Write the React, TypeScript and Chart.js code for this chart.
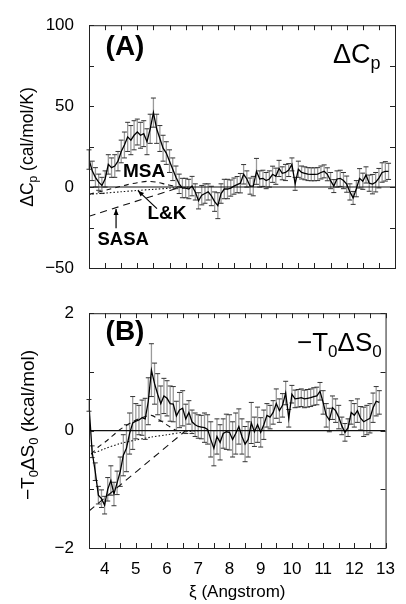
import React, { useEffect, useRef } from 'react';
import { Chart, registerables } from 'chart.js';
Chart.register(...registerables);

const FAM = '"Liberation Sans", Arial, Helvetica, sans-serif';

// separation coordinate (Angstrom)
const XI = [
  3.5, 3.6, 3.7, 3.8, 3.9, 4.0, 4.1, 4.2, 4.3, 4.4,
  4.5, 4.6, 4.7, 4.8, 4.9, 5.0, 5.1, 5.2, 5.3, 5.4,
  5.5, 5.6, 5.7, 5.8, 5.9, 6.0, 6.1, 6.2, 6.3, 6.4,
  6.5, 6.6, 6.7, 6.8, 6.9, 7.0, 7.1, 7.2, 7.3, 7.4,
  7.5, 7.6, 7.7, 7.8, 7.9, 8.0, 8.1, 8.2, 8.3, 8.4,
  8.5, 8.6, 8.7, 8.8, 8.9, 9.0, 9.1, 9.2, 9.3, 9.4,
  9.5, 9.6, 9.7, 9.8, 9.9, 10.0, 10.1, 10.2, 10.3, 10.4,
  10.5, 10.6, 10.7, 10.8, 10.9, 11.0, 11.1, 11.2, 11.3, 11.4,
  11.5, 11.6, 11.7, 11.8, 11.9, 12.0, 12.1, 12.2, 12.3, 12.4,
  12.5, 12.6, 12.7, 12.8,
];

// Panel A: ΔCp (cal/mol/K)
const DCP = [
  17, 10, 6, 3, 1, 5, 14, 12, 13, 16,
  22, 26, 31, 29, 32, 34, 32, 33, 28, 36,
  46, 36, 30, 24, 21, 16, 11, 6, 2, -0.6,
  -0.6, -1.2, 0.6, -3, -8.5, -5, -4, -3, -5.5, -9,
  -11.5, -4, -1.2, -1.2, -0.6, 0.6, 1.5, 2.4, 7.9, 5,
  0.6, 0.6, 9.7, 5, 5.4, 4, 5, 7.9, 6.7, 11.5,
  8.5, 9, 10.5, 14, 2, 11, 9, 8.5, 8, 7.9,
  7.9, 8, 9, 9.7, 7.9, 4, 0.6, 5, 5.4, 4,
  1.8, -3, -6.7, -1, 5.4, 3.6, 7.5, 2.4, 1.8, 3,
  5.5, 9, 9.7, 9.7,
];
const DCP_ERR = [
  6, 6, 6, 5, 5, 5, 6, 6, 7, 6,
  7, 8, 9, 9, 9, 8, 8, 8, 8, 9,
  9, 9, 8, 8, 7, 7, 7, 7, 6, 6,
  6, 6, 6, 5, 5, 6, 6, 5, 6, 6,
  8, 6, 6, 6, 5, 5, 5, 6, 6, 5,
  5, 6, 8, 5, 5, 5, 5, 5, 5, 5,
  4, 5, 4, 4, 4, 5, 4, 4, 4, 4,
  4, 4, 4, 4, 4, 5, 4, 5, 5, 5,
  5, 5, 4, 5, 6, 5, 5, 5, 6, 6,
  6, 6, 6, 5,
];

// Panel B: -T0ΔS0 (kcal/mol)
const TDS = [
  0.43, -0.36, -0.7, -1.1, -1.16, -1.27, -1.0, -0.85, -1.08, -0.89,
  -0.7, -0.42, -0.3, -0.05, 0.13, 0.16, 0.18, 0.22, 0.2, 0.5,
  1.03, 0.8, 0.62, 0.46, 0.59, 0.55, 0.46, 0.45, 0.25, 0.35,
  0.38, 0.2, 0.31, 0.15, 0.1, 0.07, 0.06, 0.05, 0.02, -0.15,
  -0.3, -0.1, -0.2, -0.05, -0.02, -0.03, -0.15, -0.05, 0.07, -0.1,
  -0.23, -0.15, 0.13, -0.02, 0.1, -0.03, 0.1, 0.26, 0.23, 0.31,
  0.46, 0.34, 0.43, 0.64, 0.21, 0.62, 0.54, 0.55, 0.56, 0.54,
  0.55, 0.56, 0.58, 0.59, 0.67, 0.48, 0.26, 0.18, 0.39, 0.34,
  0.23, 0.08, -0.03, 0.05, 0.31, 0.26, 0.34, 0.21, 0.15, 0.18,
  0.21, 0.39, 0.5, 0.48,
];
const TDS_ERR = [
  0.1, 0.1, 0.15, 0.15, 0.15, 0.15, 0.2, 0.25, 0.2, 0.2,
  0.25, 0.35, 0.4, 0.35, 0.45, 0.3, 0.25, 0.3, 0.35, 0.4,
  0.45, 0.35, 0.35, 0.3, 0.3, 0.3, 0.3, 0.3, 0.25, 0.3,
  0.3, 0.25, 0.2, 0.2, 0.2, 0.2, 0.2, 0.25, 0.25, 0.3,
  0.3, 0.3, 0.3, 0.25, 0.3, 0.3, 0.3, 0.35, 0.3, 0.3,
  0.3, 0.3, 0.35, 0.25, 0.3, 0.25, 0.25, 0.2, 0.2, 0.2,
  0.25, 0.2, 0.2, 0.2, 0.15, 0.15, 0.15, 0.15, 0.15, 0.15,
  0.15, 0.15, 0.15, 0.15, 0.15, 0.2, 0.2, 0.2, 0.2, 0.2,
  0.2, 0.15, 0.15, 0.15, 0.2, 0.2, 0.2, 0.2, 0.25, 0.25,
  0.25, 0.25, 0.25, 0.2,
];

// model curves, panel A
const SASA_A_X = [3.5, 6.35];
const SASA_A_Y = [-18, 0];
const LK_A_X = [3.5, 4.0, 4.5, 5.0, 5.5, 6.0, 6.6];
const LK_A_Y = [-4.5, -3.7, -2.9, -2.1, -1.4, -0.7, 0];
const MSA_A_X = [3.5, 3.8, 4.1, 4.4, 4.7, 5.0, 5.3, 5.6, 5.9, 6.2, 6.4];
const MSA_A_Y = [-4.5, -3, -1.5, 0, 1.5, 2.7, 3.5, 3.0, 1.6, 0.3, 0];

// model curves, panel B
const SASA_B_X = [3.5, 6.6];
const SASA_B_Y = [-1.37, 0];
const LK_B_X = [3.57, 4.0, 4.5, 5.0, 5.5, 6.0, 6.6, 7.0];
const LK_B_Y = [-0.4, -0.31, -0.22, -0.16, -0.11, -0.07, -0.02, 0];
const MSA_B_X = [3.57, 3.8, 4.1, 4.5, 4.9, 5.2, 5.5, 5.7, 5.9, 6.1, 6.3];
const MSA_B_Y = [-0.4, -0.28, -0.16, 0.02, 0.15, 0.22, 0.26, 0.2, 0.13, 0.06, 0];

const ZERO_X = [3.5, 13];
const ZERO_Y = [0, 0];

const X_MIN = 3.5;
const X_MAX = 13;

const pts = (xs: number[], ys: number[]) => xs.map((x, i) => ({ x, y: ys[i] }));

type Seg = { t: string; sub?: boolean };

function drawRich(ctx: CanvasRenderingContext2D, segs: Seg[], x: number, y: number, size: number, align: 'left' | 'center', weight = 'normal') {
  const sub = Math.round(size * 0.66);
  const widths = segs.map((s) => {
    ctx.font = `${weight} ${s.sub ? sub : size}px ${FAM}`;
    return ctx.measureText(s.t).width;
  });
  const total = widths.reduce((a, b) => a + b, 0);
  let cx = align === 'center' ? x - total / 2 : x;
  ctx.textAlign = 'left';
  ctx.textBaseline = 'alphabetic';
  segs.forEach((s, i) => {
    ctx.font = `${weight} ${s.sub ? sub : size}px ${FAM}`;
    ctx.fillText(s.t, cx, y + (s.sub ? size * 0.22 : 0));
    cx += widths[i];
  });
}

function arrow(ctx: CanvasRenderingContext2D, x1: number, y1: number, x2: number, y2: number) {
  ctx.save();
  ctx.strokeStyle = '#000';
  ctx.fillStyle = '#000';
  ctx.lineWidth = 1.2;
  ctx.setLineDash([]);
  ctx.beginPath();
  ctx.moveTo(x1, y1);
  ctx.lineTo(x2, y2);
  ctx.stroke();
  const a = Math.atan2(y2 - y1, x2 - x1);
  const L = 6, W = 2.5;
  ctx.beginPath();
  ctx.moveTo(x2, y2);
  ctx.lineTo(x2 - L * Math.cos(a) + W * Math.sin(a), y2 - L * Math.sin(a) - W * Math.cos(a));
  ctx.lineTo(x2 - L * Math.cos(a) - W * Math.sin(a), y2 - L * Math.sin(a) + W * Math.cos(a));
  ctx.closePath();
  ctx.fill();
  ctx.restore();
}

const framePlugin = {
  id: 'frameTicks',
  afterDatasetsDraw(chart: any) {
    const { ctx, chartArea: a, scales } = chart;
    ctx.save();
    ctx.strokeStyle = '#222';
    ctx.lineWidth = 1;
    ctx.setLineDash([]);
    ctx.strokeRect(a.left + 0.5, a.top + 0.5, a.right - a.left, a.bottom - a.top);
    const T = 5;
    ctx.beginPath();
    scales.x.ticks.forEach((t: any) => {
      const px = Math.round(scales.x.getPixelForValue(t.value)) + 0.5;
      ctx.moveTo(px, a.bottom);
      ctx.lineTo(px, a.bottom - T);
      ctx.moveTo(px, a.top);
      ctx.lineTo(px, a.top + T);
    });
    scales.y.ticks.forEach((t: any) => {
      const py = Math.round(scales.y.getPixelForValue(t.value)) + 0.5;
      ctx.moveTo(a.left, py);
      ctx.lineTo(a.left + T, py);
      ctx.moveTo(a.right, py);
      ctx.lineTo(a.right - T, py);
    });
    ctx.stroke();
    ctx.restore();
  },
};

const errorPlugin = {
  id: 'errorBars',
  beforeDatasetsDraw(chart: any) {
    const { ctx, scales } = chart;
    const ds = chart.data.datasets.find((d: any) => d.errors);
    if (!ds) return;
    ctx.save();
    ds.data.forEach((p: any, i: number) => {
      const e = ds.errors[i];
      const px = scales.x.getPixelForValue(p.x);
      const yt = scales.y.getPixelForValue(p.y + e);
      const yb = scales.y.getPixelForValue(p.y - e);
      ctx.strokeStyle = '#9a9a9a';
      ctx.lineWidth = 1.3;
      ctx.beginPath();
      ctx.moveTo(px, yt);
      ctx.lineTo(px, yb);
      ctx.stroke();
      ctx.strokeStyle = '#333';
      ctx.lineWidth = 1;
      ctx.beginPath();
      ctx.moveTo(px - 2.5, yt);
      ctx.lineTo(px + 2.5, yt);
      ctx.moveTo(px - 2.5, yb);
      ctx.lineTo(px + 2.5, yb);
      ctx.stroke();
    });
    ctx.restore();
  },
};

function makeConfig(panel: 'A' | 'B') {
  const isA = panel === 'A';
  const main = isA ? DCP : TDS;
  const err = isA ? DCP_ERR : TDS_ERR;
  const model = (xs: number[], ys: number[], dash: number[], w = 1.1) => ({
    data: pts(xs, ys),
    borderColor: '#111',
    borderWidth: w,
    borderDash: dash,
    pointRadius: 0,
    tension: 0.3,
    fill: false,
    order: 3,
  });
  const datasets: any[] = [
    {
      data: pts(ZERO_X, ZERO_Y),
      borderColor: '#111',
      borderWidth: 1.1,
      pointRadius: 0,
      order: 4,
    },
    model(isA ? SASA_A_X : SASA_B_X, isA ? SASA_A_Y : SASA_B_Y, [7, 5]),
    model(isA ? LK_A_X : LK_B_X, isA ? LK_A_Y : LK_B_Y, [1.5, 2]),
    model(isA ? MSA_A_X : MSA_B_X, isA ? MSA_A_Y : MSA_B_Y, [5, 4]),
    {
      data: pts(XI, main),
      errors: err,
      borderColor: '#000',
      borderWidth: 1.3,
      pointRadius: 0,
      tension: 0,
      order: 1,
    },
  ];

  const textPlugin = {
    id: 'panelText' + panel,
    afterDraw(chart: any) {
      const { ctx, scales } = chart;
      const X = (v: number) => scales.x.getPixelForValue(v);
      const Y = (v: number) => scales.y.getPixelForValue(v);
      ctx.save();
      ctx.fillStyle = '#000';
      if (isA) {
        ctx.font = `bold 28px ${FAM}`;
        ctx.textAlign = 'center';
        ctx.textBaseline = 'middle';
        ctx.fillText('(A)', 125, 47);
        drawRich(ctx, [{ t: 'ΔC' }, { t: 'p', sub: true }], 333, 63, 27, 'left');
        ctx.save();
        ctx.translate(27, 147);
        ctx.rotate(-Math.PI / 2);
        drawRich(ctx, [{ t: 'ΔC' }, { t: 'p', sub: true }, { t: ' (cal/mol/K)' }], 0, 6, 17.5, 'center');
        ctx.restore();
        ctx.textAlign = 'center';
        ctx.textBaseline = 'middle';
        ctx.font = `bold 19px ${FAM}`;
        ctx.fillText('MSA', X(5.21), Y(9.7));
        ctx.fillText('L&K', X(5.92), Y(-16.6));
        ctx.font = `bold 18.5px ${FAM}`;
        ctx.fillText('SASA', X(4.56), Y(-32.7));
        arrow(ctx, X(4.34), Y(-25.5), X(4.34), Y(-13.5));
        arrow(ctx, X(5.61), Y(-13.3), X(5.02), Y(-2.2));
      } else {
        ctx.font = `bold 28px ${FAM}`;
        ctx.textAlign = 'center';
        ctx.textBaseline = 'middle';
        ctx.fillText('(B)', 125, 44);
        drawRich(ctx, [{ t: '−T' }, { t: '0', sub: true }, { t: 'ΔS' }, { t: '0', sub: true }], 297, 63, 26, 'left');
        ctx.save();
        ctx.translate(27, 137);
        ctx.rotate(-Math.PI / 2);
        drawRich(ctx, [{ t: '−T' }, { t: '0', sub: true }, { t: 'ΔS' }, { t: '0', sub: true }, { t: ' (kcal/mol)' }], 0, 6.5, 19, 'center');
        ctx.restore();
        ctx.font = `17px ${FAM}`;
        ctx.textAlign = 'center';
        ctx.textBaseline = 'middle';
        ctx.fillText('ξ (Angstrom)', (chart.chartArea.left + chart.chartArea.right) / 2, 304);
      }
      ctx.restore();
    },
  };

  return {
    type: 'line' as const,
    data: { datasets },
    plugins: [errorPlugin, framePlugin, textPlugin],
    options: {
      animation: false as const,
      responsive: false,
      devicePixelRatio: 1,
      layout: { padding: isA ? { top: 21, right: 11, bottom: 32, left: 0 } : { top: 16, right: 11, bottom: 0, left: 0 } },
      plugins: { legend: { display: false }, tooltip: { enabled: false } },
      scales: {
        x: {
          type: 'linear' as const,
          min: X_MIN,
          max: X_MAX,
          grid: { display: false, drawTicks: false },
          border: { display: false },
          afterFit: (s: any) => { s.height = isA ? 0 : 56; },
          ticks: {
            display: !isA,
            stepSize: 0.5,
            autoSkip: false,
            maxRotation: 0,
            padding: 11,
            color: '#000',
            font: { family: FAM, size: 17 },
            callback: (v: any) => (Number.isInteger(v) ? String(v) : ''),
          },
        },
        y: {
          type: 'linear' as const,
          min: isA ? -50 : -2,
          max: isA ? 100 : 2,
          grid: { display: false, drawTicks: false },
          border: { display: false },
          afterFit: (s: any) => { s.width = 89; },
          ticks: {
            stepSize: isA ? 25 : 1,
            autoSkip: false,
            padding: 15,
            color: '#000',
            font: { family: FAM, size: 17 },
            callback: (v: any) => (v % (isA ? 50 : 2) === 0 ? String(v).replace('-', '−') : ''),
          },
        },
      },
    },
  };
}

function Panel({ panel, top, height }: { panel: 'A' | 'B'; top: number; height: number }) {
  const ref = useRef<HTMLCanvasElement>(null);
  useEffect(() => {
    if (!ref.current) return;
    const chart = new Chart(ref.current, makeConfig(panel) as any);
    return () => chart.destroy();
  }, [panel]);
  return (
    <canvas
      ref={ref}
      width={406}
      height={height}
      style={{ position: 'absolute', left: 0, top, width: 406, height }}
    />
  );
}

export default function App() {
  return (
    <div style={{ position: 'absolute', left: 0, top: 0, width: 406, height: 604, background: '#fff' }}>
      <Panel panel="A" top={0} height={300} />
      <Panel panel="B" top={288} height={316} />
    </div>
  );
}
